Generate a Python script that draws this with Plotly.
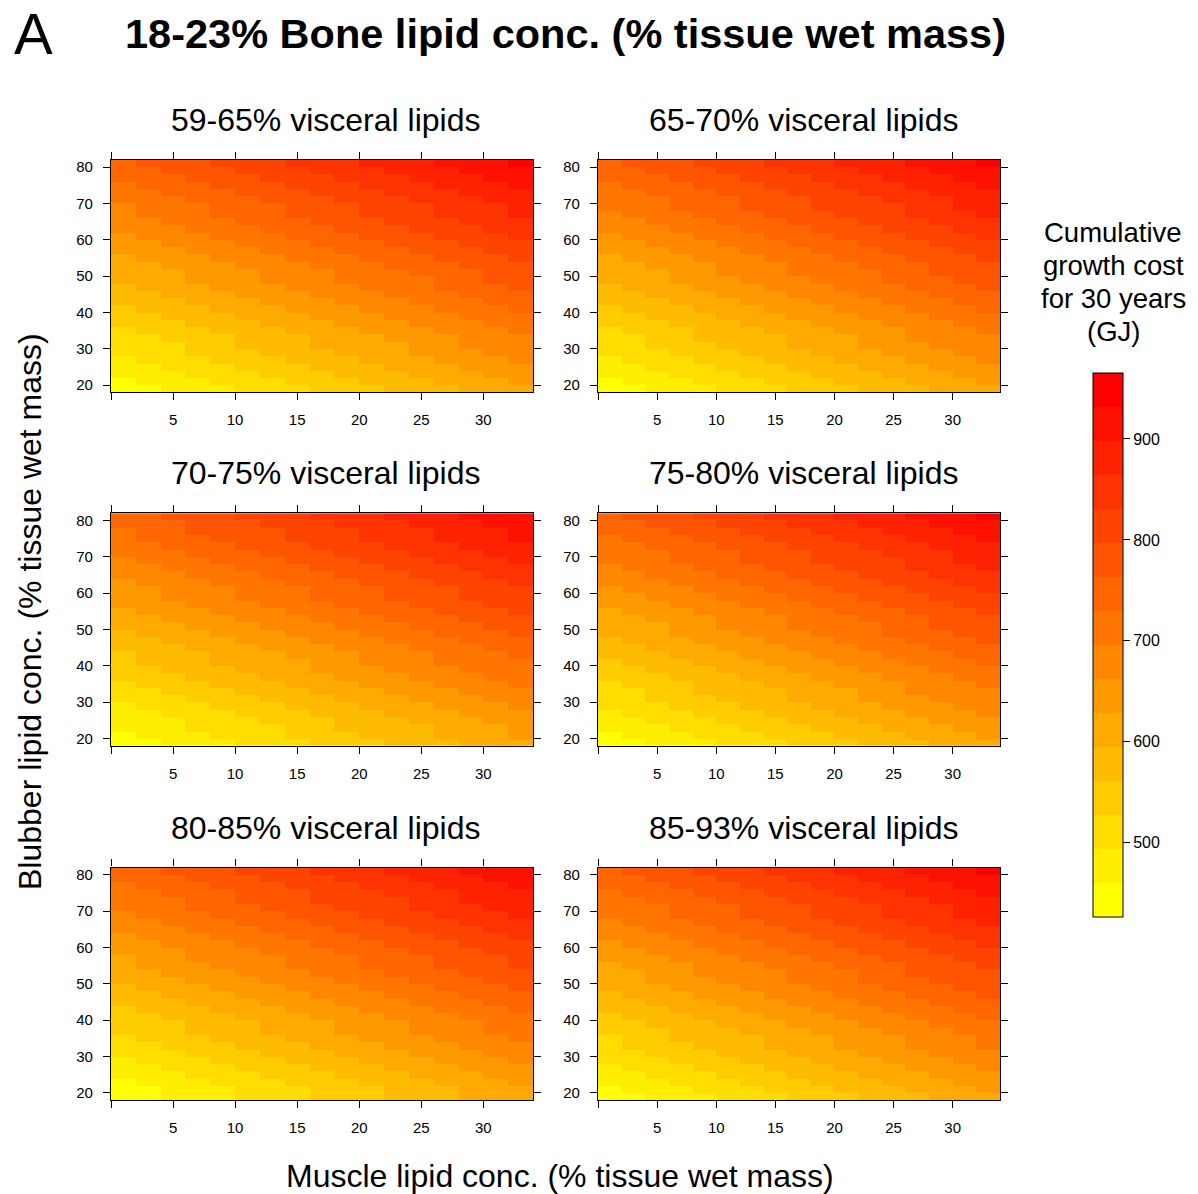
import numpy as np
import plotly.graph_objects as go

W, H = 1198, 1194

# Cell centres of the model grid (% tissue wet mass)
muscle_lipid = [1, 3, 5, 7, 9, 11, 13, 15, 17, 19, 21, 23, 25, 27, 29, 31, 33]
blubber_lipid = [19, 21, 23, 25, 27, 29, 31, 33, 35, 37, 39, 41, 43, 45, 47, 49,
                 51, 53, 55, 57, 59, 61, 63, 65, 67, 69, 71, 73, 75, 77, 79, 81]

visceral_labels = ["59-65% visceral lipids", "65-70% visceral lipids",
                   "70-75% visceral lipids", "75-80% visceral lipids",
                   "80-85% visceral lipids", "85-93% visceral lipids"]

# Growth cost (GJ) at the lowest muscle / blubber lipid cell of each panel
base_cost = [445, 446, 440, 446, 438, 447]
# Extra cost (GJ) along the muscle lipid axis, relative to the first column
muscle_cost = [0, 11, 22, 34, 45, 56, 67, 78, 90, 101, 112, 123, 134, 146, 157, 168, 179]
# Extra cost (GJ) along the blubber lipid axis, relative to the bottom row
blubber_cost = [0, 10, 20, 30, 40, 50, 60, 70, 80, 90, 100, 110, 120, 130, 140, 150,
                160, 170, 180, 190, 200, 210, 220, 230, 240, 250, 259, 269, 279, 289, 299, 309]

colorbar_ticks = [500, 600, 700, 800, 900]
colorbar_title = ["Cumulative", "growth cost", "for 30 years", "(GJ)"]
z_min, z_max = 426, 965
n_bins = 16

# Stepped red -> yellow palette, lowest bin yellow
colorscale = []
for k in range(n_bins):
    g = round(255 * (n_bins - 1 - k) / (n_bins - 1))
    col = f"rgb(255,{g},0)"
    colorscale.append([k / n_bins, col])
    colorscale.append([(k + 1) / n_bins, col])

# Panel rectangles in pixels: left, right, top, bottom
panels = [(111, 533, 159, 392), (598, 1000, 159, 392),
          (111, 533, 513, 746), (598, 1000, 513, 746),
          (111, 533, 868, 1101), (598, 1000, 868, 1101)]

FONT = "Liberation Sans, Arial, Helvetica, sans-serif"

fig = go.Figure()
layout = dict(
    width=W, height=H,
    margin=dict(l=0, r=0, t=0, b=0),
    paper_bgcolor="white", plot_bgcolor="white",
    font=dict(family=FONT, color="black"),
    showlegend=False,
)

annotations = []
for i, (label, base) in enumerate(zip(visceral_labels, base_cost)):
    z = base + np.add.outer(np.array(blubber_cost), np.array(muscle_cost))
    n = "" if i == 0 else str(i + 1)
    l, r, t, b = panels[i]
    fig.add_trace(go.Heatmap(
        x=muscle_lipid, y=blubber_lipid, z=z,
        zmin=z_min, zmax=z_max, colorscale=colorscale,
        showscale=(i == 0),
        xaxis="x" + n, yaxis="y" + n,
        colorbar=dict(
            x=1093 / W, xanchor="left", y=1 - 373 / H, yanchor="top",
            len=545 / H, lenmode="fraction",
            thickness=30, thicknessmode="pixels",
            outlinewidth=1, outlinecolor="black",
            ticks="outside", ticklen=7, tickwidth=1, tickcolor="black",
            tickvals=colorbar_ticks, tickfont=dict(size=16, family=FONT),
            xpad=0, ypad=0,
        ),
        hoverinfo="skip",
    ))
    axis_common = dict(
        showline=True, linecolor="black", linewidth=1.2, mirror="ticks",
        ticks="outside", ticklen=7, tickwidth=1.2, tickcolor="black",
        showgrid=False, zeroline=False, tickfont=dict(size=15, family=FONT),
    )
    layout["xaxis" + n] = dict(
        axis_common, domain=[l / W, r / W], range=[0, 34],
        anchor="y" + n,
        tickvals=[0, 5, 10, 15, 20, 25, 30],
        ticktext=["", "5", "10", "15", "20", "25", "30"],
        ticklabelstandoff=7,
    )
    layout["yaxis" + n] = dict(
        axis_common, domain=[1 - b / H, 1 - t / H], range=[18, 82],
        anchor="x" + n,
        tickvals=[20, 30, 40, 50, 60, 70, 80],
        ticklabelstandoff=7,
    )
    annotations.append(dict(
        text=label, x=(l + r) / 2 / W + 4 / W, y=1 - (t - 40) / H,
        xref="paper", yref="paper", xanchor="center", yanchor="middle",
        showarrow=False, font=dict(size=32, family=FONT),
    ))

annotations += [
    dict(text="A", x=12 / W, y=1 - 33 / H, xref="paper", yref="paper",
         xanchor="left", yanchor="middle", showarrow=False,
         font=dict(size=58, family=FONT)),
    dict(text="<b>18-23% Bone lipid conc. (% tissue wet mass)</b>",
         x=565 / W, y=1 - 33 / H, xref="paper", yref="paper",
         xanchor="center", yanchor="middle", showarrow=False,
         font=dict(size=41.5, family=FONT)),
    dict(text="Blubber lipid conc. (% tissue wet mass)", textangle=-90,
         x=30 / W, y=1 - 612 / H, xref="paper", yref="paper",
         xanchor="center", yanchor="middle", showarrow=False,
         font=dict(size=32, family=FONT)),
    dict(text="Muscle lipid conc. (% tissue wet mass)",
         x=560 / W, y=1 - 1177 / H, xref="paper", yref="paper",
         xanchor="center", yanchor="middle", showarrow=False,
         font=dict(size=32, family=FONT)),
]

# Colorbar heading, one line at a time for tighter leading
for j, line in enumerate(colorbar_title):
    annotations.append(dict(
        text=line, x=1113 / W, y=1 - (232 + 33 * j) / H,
        xref="paper", yref="paper", xanchor="center", yanchor="middle",
        showarrow=False, font=dict(size=27.5, family=FONT),
    ))

layout["annotations"] = annotations
fig.update_layout(**layout)
fig.write_html("out.html")
